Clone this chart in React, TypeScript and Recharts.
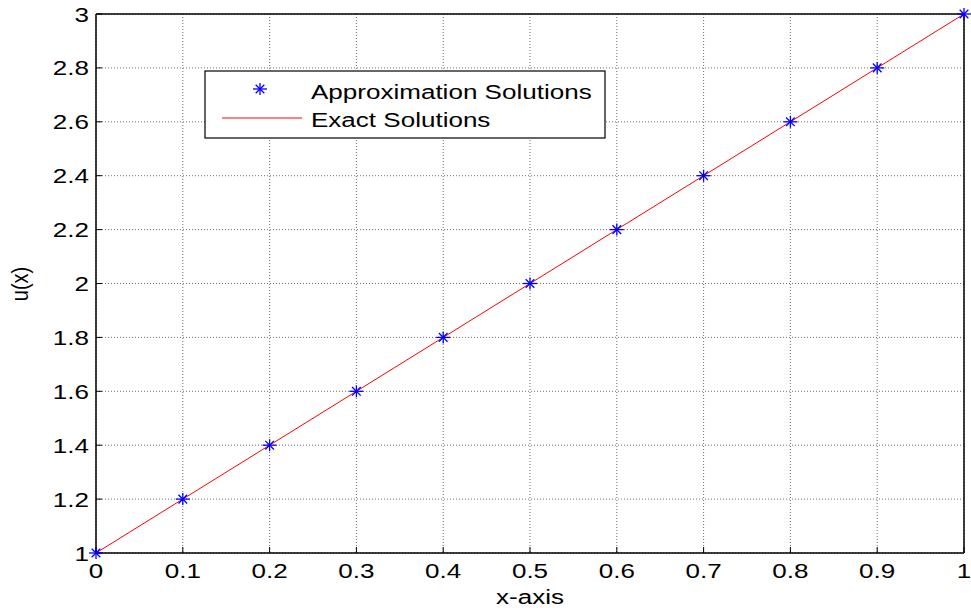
import React from 'react';
import {
  ComposedChart,
  Line,
  Scatter,
  XAxis,
  YAxis,
  CartesianGrid,
  ReferenceLine,
} from 'recharts';

const xValues = [0, 0.1, 0.2, 0.3, 0.4, 0.5, 0.6, 0.7, 0.8, 0.9, 1];
const approxValues = [1, 1.2, 1.4, 1.6, 1.8, 2, 2.2, 2.4, 2.6, 2.8, 3];
const exactValues = [1, 1.2, 1.4, 1.6, 1.8, 2, 2.2, 2.4, 2.6, 2.8, 3];
const xTicks = [0, 0.1, 0.2, 0.3, 0.4, 0.5, 0.6, 0.7, 0.8, 0.9, 1];
const yTicks = [1, 1.2, 1.4, 1.6, 1.8, 2, 2.2, 2.4, 2.6, 2.8, 3];

const data = xValues.map((x, i) => ({ x, approx: approxValues[i], exact: exactValues[i] }));

const FONT = '"Liberation Sans", Arial, sans-serif';
const FS = 21;
const STRETCH = 1.24; // the figure's text is drawn wide
const BLUE = '#0000ff';
const RED = '#ff0000';

// MATLAB-style '*' marker
const Star = (props: any) => {
  const { cx, cy } = props;
  const r = 6;
  const d = r * 0.72;
  return (
    <g stroke={BLUE} strokeWidth={1.3}>
      <line x1={cx - r - 1} y1={cy} x2={cx + r + 1} y2={cy} />
      <line x1={cx} y1={cy - r} x2={cx} y2={cy + r} />
      <line x1={cx - d} y1={cy - d} x2={cx + d} y2={cy + d} />
      <line x1={cx - d} y1={cy + d} x2={cx + d} y2={cy - d} />
    </g>
  );
};

const WideText = ({ x, y, anchor, children }: any) => (
  <text
    transform={`translate(${x},${y}) scale(${STRETCH},1)`}
    textAnchor={anchor}
    fontSize={FS}
    fontFamily={FONT}
    fill="#000"
  >
    {children}
  </text>
);

const XTick = (props: any) => {
  const { x, y, payload } = props;
  return <WideText x={x} y={y + 15} anchor="middle">{String(payload.value)}</WideText>;
};

const YTick = (props: any) => {
  const { x, y, payload } = props;
  return <WideText x={x} y={y + 7.5} anchor="end">{String(payload.value)}</WideText>;
};

const LegendBox = () => (
  <svg
    width={402}
    height={69}
    style={{ position: 'absolute', left: 204, top: 70, overflow: 'visible' }}
  >
    <rect x={1} y={1} width={400} height={67} fill="#fff" stroke="#000" strokeWidth={1.2} />
    <Star cx={56} cy={19} />
    <line x1={18} y1={48} x2={98} y2={48} stroke={RED} strokeWidth={1} />
    <WideText x={107} y={29} anchor="start">Approximation Solutions</WideText>
    <WideText x={107} y={57} anchor="start">Exact Solutions</WideText>
  </svg>
);

export default function App() {
  return (
    <div style={{ position: 'absolute', left: 0, top: 0, width: 971, height: 614, background: '#fff' }}>
      <ComposedChart
        width={971}
        height={614}
        data={data}
        margin={{ top: 14, right: 7, bottom: 31, left: 36 }}
      >
        <CartesianGrid stroke="#6e6e6e" strokeDasharray="1 2" />
        <XAxis
          dataKey="x"
          type="number"
          domain={[0, 1]}
          ticks={xTicks}
          height={30}
          axisLine={false}
          tickSize={-6}
          tickMargin={16}
          tickLine={{ stroke: '#000' }}
          tick={<XTick />}
          interval={0}
        />
        <YAxis
          type="number"
          domain={[1, 3]}
          ticks={yTicks}
          width={60}
          axisLine={false}
          tickSize={-6}
          tickMargin={13}
          tickLine={{ stroke: '#000' }}
          tick={<YTick />}
          interval={0}
        />
        <XAxis
          xAxisId="top"
          orientation="top"
          dataKey="x"
          type="number"
          domain={[0, 1]}
          ticks={xTicks}
          height={0}
          axisLine={false}
          tickSize={-6}
          tickLine={{ stroke: '#000' }}
          tick={false}
        />
        <YAxis
          yAxisId="right"
          orientation="right"
          type="number"
          domain={[1, 3]}
          ticks={yTicks}
          width={0}
          axisLine={false}
          tickSize={-6}
          tickLine={{ stroke: '#000' }}
          tick={false}
        />
        <ReferenceLine x={0} stroke="#000" strokeWidth={1.5} />
        <ReferenceLine x={1} stroke="#000" strokeWidth={1.5} />
        <ReferenceLine y={1} stroke="#000" strokeWidth={1.5} />
        <ReferenceLine y={3} stroke="#000" strokeWidth={1.5} />
        <Line
          type="linear"
          dataKey="exact"
          stroke={RED}
          strokeWidth={1}
          dot={false}
          isAnimationActive={false}
        />
        <Scatter dataKey="approx" shape={<Star />} isAnimationActive={false} />
        <text
          x={530}
          y={604}
          textAnchor="middle"
          fontSize={FS}
          fontFamily={FONT}
          transform={`translate(530,0) scale(${STRETCH},1) translate(-530,0)`}
        >
          x-axis
        </text>
        <text
          transform="translate(28,284) rotate(-90) scale(1,1.2)"
          textAnchor="middle"
          fontSize={20}
          fontFamily={FONT}
        >
          u(x)
        </text>
      </ComposedChart>
      <LegendBox />
    </div>
  );
}
